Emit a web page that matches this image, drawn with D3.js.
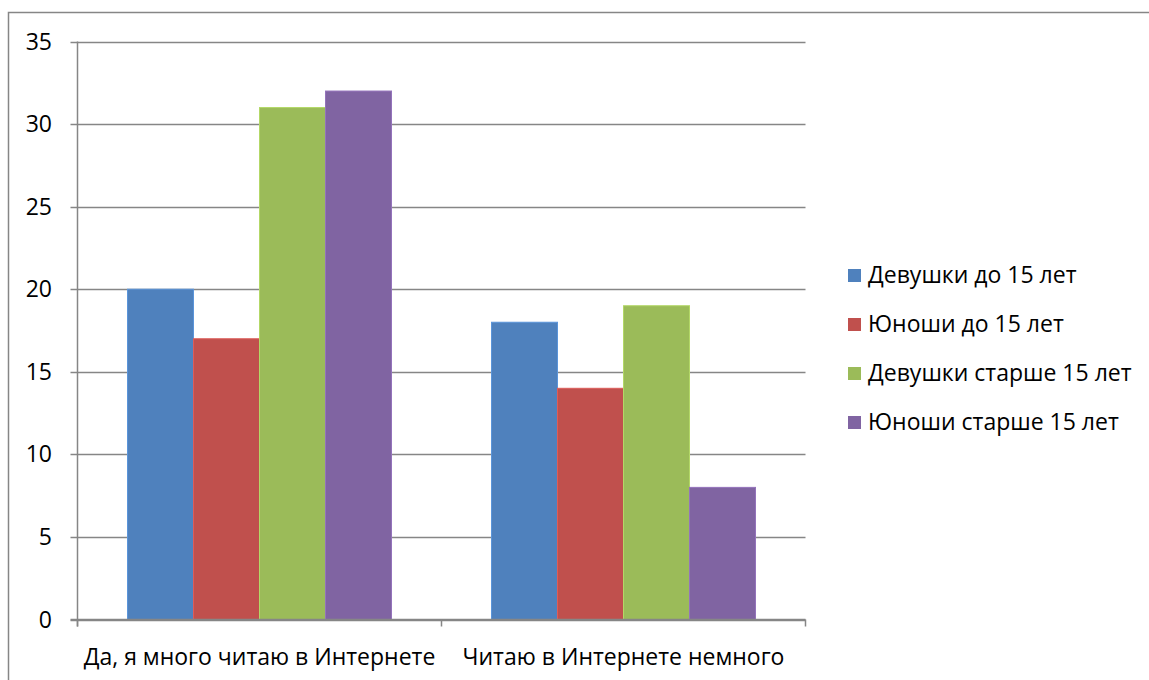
<!DOCTYPE html>
<html lang="ru">
<head>
<meta charset="utf-8">
<title>Чтение в Интернете</title>
<script src="https://cdn.jsdelivr.net/npm/d3@7"></script>
<style>
  body { margin: 0; background: #fff; }
  svg text { font-family: "Open Sans", sans-serif; fill: #000; }
</style>
</head>
<body>
<script>
// data
var categories = ["Да, я много читаю в Интернете", "Читаю в Интернете немного"];
var seriesNames = ["Девушки до 15 лет", "Юноши до 15 лет", "Девушки старше 15 лет", "Юноши старше 15 лет"];
var girlsUnder15 = [20, 18];
var boysUnder15 = [17, 14];
var girlsOver15 = [31, 19];
var boysOver15 = [32, 8];
var yTicks = [0, 5, 10, 15, 20, 25, 30, 35];
var colors = ["#4f81bd", "#c0504d", "#9bbb59", "#8064a2"];

var seriesValues = [girlsUnder15, boysUnder15, girlsOver15, boysOver15];

var w = 1149, h = 680;
var plotLeft = 77.5, plotRight = 805.5, plotTop = 41.5, plotBottom = 619.5;
var fontSize = "23px";

var svg = d3.select("body").append("svg")
    .attr("width", w)
    .attr("height", h);

// chart frame
svg.append("rect")
    .attr("x", 8.5).attr("y", 12.5)
    .attr("width", 1200).attr("height", 700)
    .attr("fill", "none")
    .attr("stroke", "#868686")
    .attr("stroke-width", 1.5);

var x0 = d3.scaleBand().domain(categories).range([plotLeft, plotRight]);
// 4 bars of ~66px with 50px free at each side of a group
var x1 = d3.scaleBand().domain(d3.range(seriesNames.length)).range([50, x0.bandwidth() - 50]);
var y = d3.scaleLinear().domain([0, 35]).range([plotBottom, plotTop]);

// gridlines
svg.append("g").selectAll("line")
    .data(yTicks)
    .enter().append("line")
    .attr("x1", plotLeft - 7).attr("x2", plotRight)
    .attr("y1", function(d) { return Math.round(y(d)) + 0.5; })
    .attr("y2", function(d) { return Math.round(y(d)) + 0.5; })
    .attr("stroke", "#868686")
    .attr("stroke-width", 1.5);

// y labels
svg.append("g").selectAll("text")
    .data(yTicks)
    .enter().append("text")
    .attr("x", 52)
    .attr("y", function(d) { return y(d); })
    .attr("dy", "0.35em")
    .attr("text-anchor", "end")
    .attr("font-size", fontSize)
    .text(function(d) { return d; });

// bars
var groups = svg.append("g").selectAll("g")
    .data(categories)
    .enter().append("g")
    .attr("transform", function(d) { return "translate(" + x0(d) + ",0)"; });

groups.selectAll("rect")
    .data(function(d, i) { return seriesValues.map(function(s, k) { return { k: k, v: s[i] }; }); })
    .enter().append("rect")
    .attr("x", function(d) { return x1(d.k); })
    .attr("y", function(d) { return y(d.v); })
    .attr("width", x1.bandwidth())
    .attr("height", function(d) { return y(0) - y(d.v); })
    .attr("fill", function(d) { return colors[d.k]; })
    .attr("stroke", function(d) { return d3.color(colors[d.k]).brighter(0.4); })
    .attr("stroke-width", 1);

// axes lines
svg.append("line")
    .attr("x1", plotLeft).attr("x2", plotLeft)
    .attr("y1", plotTop).attr("y2", plotBottom + 7)
    .attr("stroke", "#868686").attr("stroke-width", 1.5);
svg.append("line")
    .attr("x1", plotLeft - 7).attr("x2", plotRight)
    .attr("y1", plotBottom).attr("y2", plotBottom)
    .attr("stroke", "#868686").attr("stroke-width", 1.5);
svg.append("g").selectAll("line")
    .data(categories.concat(["end"]))
    .enter().append("line")
    .attr("x1", function(d, i) { return plotLeft + i * x0.bandwidth(); })
    .attr("x2", function(d, i) { return plotLeft + i * x0.bandwidth(); })
    .attr("y1", plotBottom).attr("y2", plotBottom + 7)
    .attr("stroke", "#868686").attr("stroke-width", 1.5);

// x labels
svg.append("g").selectAll("text")
    .data(categories)
    .enter().append("text")
    .attr("x", function(d) { return x0(d) + x0.bandwidth() / 2; })
    .attr("y", 657)
    .attr("dy", "0.35em")
    .attr("text-anchor", "middle")
    .attr("font-size", fontSize)
    .text(function(d) { return d; });

// legend
var legend = svg.append("g").selectAll("g")
    .data(seriesNames)
    .enter().append("g")
    .attr("transform", function(d, i) { return "translate(848," + (275 + i * 49) + ")"; });
legend.append("rect")
    .attr("x", 0).attr("y", -6)
    .attr("width", 13).attr("height", 13)
    .attr("fill", function(d, i) { return colors[i]; });
legend.append("text")
    .attr("x", 20).attr("y", 0)
    .attr("dy", "0.35em")
    .attr("font-size", fontSize)
    .text(function(d) { return d; });
</script>
</body>
</html>
